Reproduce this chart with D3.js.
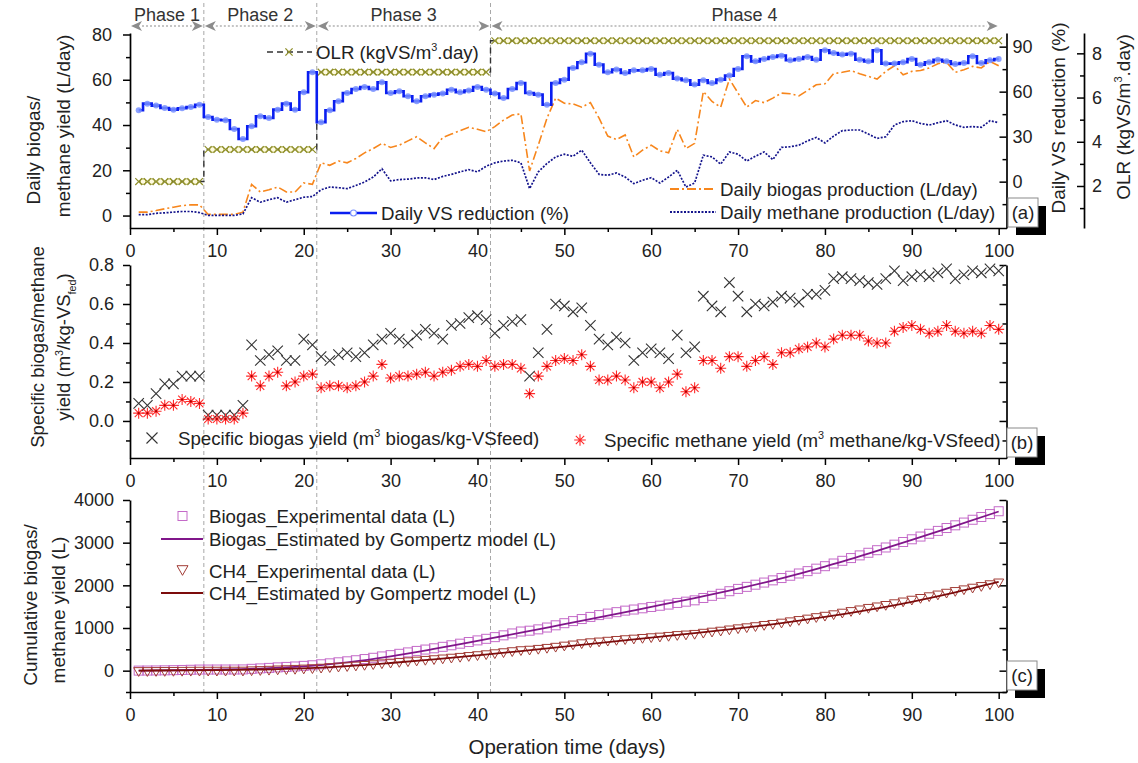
<!DOCTYPE html>
<html><head><meta charset="utf-8">
<script src="https://cdn.jsdelivr.net/npm/d3@7/dist/d3.min.js"></script>
<style>html,body{margin:0;padding:0;background:#fff}</style>
</head><body>
<svg id="chart" width="1138" height="763" xmlns="http://www.w3.org/2000/svg"></svg>
<script>
// ---------------- DATA ----------------
const days = d3.range(1, 101);
const xTicks = [0,10,20,30,40,50,60,70,80,90,100];
const xMinorTicks = [5,15,25,35,45,55,65,75,85,95];
const phaseNames = ["Phase 1","Phase 2","Phase 3","Phase 4"];
const phaseFrom = [0, 8.5, 21.5, 41.5];
const phaseTo = [8.5, 21.5, 41.5, 100];
const phaseStartDay = [1, 9, 22, 42];
const phaseEndDay = [8, 21, 41, 100];
const olrValue = [2.2, 3.65, 7.15, 8.57];

const vsReduction = [47.6,52.0,50.7,49.1,48.0,48.9,49.8,51.3,43.1,41.3,
 40.9,35.1,28.4,36.9,43.6,42.4,48.0,52.0,48.0,59.6,
 72.9,39.6,47.6,53.6,59.1,61.8,63.1,61.8,66.2,59.1,
 60.2,56.9,53.6,56.9,58.0,58.7,61.3,59.6,60.7,63.1,
 61.3,58.7,55.8,61.8,65.8,59.1,58.0,51.3,65.8,68.0,
 75.8,79.6,85.3,78.0,72.9,74.7,72.4,74.2,74.2,75.1,
 71.3,72.4,68.7,67.6,64.7,67.6,65.8,68.0,70.7,75.1,
 83.6,80.2,81.8,83.1,84.0,80.9,81.8,83.1,81.3,87.6,
 85.8,84.7,85.3,81.3,80.2,87.6,78.7,78.7,79.6,81.8,
 78.0,79.6,81.3,80.2,78.4,79.1,83.6,79.1,80.9,81.8];

const dailyBiogas = [1.5,1.5,2.2,3.0,3.7,4.4,4.7,4.7,0.5,0.5,
 0.5,0.5,1.5,13.8,10.4,11.4,12.6,10.4,10.4,14.4,
 13.8,23.3,22.2,24.1,23.3,25.2,27.7,29.6,31.9,30.1,
 31.1,33.0,34.8,32.1,29.6,34.5,36.0,37.5,39.0,38.1,
 37.0,39.3,42.2,44.4,44.9,19.7,31.1,43.0,51.9,49.6,
 49.3,47.9,49.9,43.0,35.1,33.6,35.6,25.9,28.9,31.1,
 28.6,27.7,38.1,29.6,31.9,54.8,50.4,47.9,60.3,54.1,
 47.9,50.8,49.9,51.9,54.1,53.8,52.9,55.3,57.8,58.2,
 62.7,63.3,64.1,62.7,61.5,60.3,63.7,66.2,62.2,63.7,
 64.1,65.2,67.1,67.7,63.3,64.4,65.9,65.2,68.1,66.2];

const dailyMethane = [0.4,0.4,1.0,1.2,1.5,1.8,1.8,1.3,0.1,0.1,
 0.1,0.1,0.7,7.9,5.9,7.0,7.9,5.9,7.0,8.1,
 8.4,11.4,12.6,12.3,11.9,13.3,14.8,17.0,20.7,15.3,
 15.9,16.1,16.6,16.7,15.9,17.3,18.2,19.3,20.3,19.3,
 21.8,23.3,24.1,24.4,23.3,11.9,19.3,23.0,25.9,27.1,
 26.2,28.9,23.3,18.2,17.8,18.8,17.0,14.1,15.6,16.7,
 14.4,17.0,20.0,12.6,14.4,26.7,25.9,22.7,28.1,27.1,
 24.1,26.2,28.1,24.7,30.1,30.4,31.1,33.0,34.5,32.1,
 35.1,37.5,37.8,37.8,36.0,34.1,34.8,40.0,41.5,41.9,
 40.7,40.0,41.0,41.9,40.0,39.0,39.3,39.0,41.9,41.0];

const specBiogas = [0.09,0.08,0.14,0.19,0.19,0.23,0.23,0.23,0.03,0.03,
 0.03,0.03,0.08,0.39,0.31,0.34,0.36,0.31,0.31,0.42,
 0.39,0.33,0.31,0.34,0.35,0.33,0.35,0.39,0.42,0.45,
 0.42,0.40,0.44,0.47,0.45,0.42,0.49,0.50,0.53,0.54,
 0.52,0.45,0.49,0.51,0.52,0.23,0.35,0.47,0.60,0.59,
 0.56,0.58,0.49,0.42,0.39,0.43,0.40,0.31,0.35,0.37,
 0.35,0.32,0.44,0.35,0.38,0.64,0.59,0.56,0.71,0.64,
 0.56,0.60,0.59,0.61,0.64,0.63,0.61,0.65,0.65,0.67,
 0.73,0.74,0.73,0.72,0.71,0.70,0.73,0.77,0.72,0.74,
 0.75,0.74,0.76,0.78,0.73,0.75,0.77,0.76,0.78,0.77];

const specMethane = [0.04,0.04,0.05,0.08,0.08,0.11,0.10,0.09,0.01,0.01,
 0.01,0.01,0.04,0.23,0.18,0.23,0.25,0.18,0.20,0.23,
 0.24,0.17,0.18,0.18,0.17,0.18,0.20,0.23,0.29,0.22,
 0.23,0.23,0.24,0.25,0.23,0.25,0.26,0.28,0.29,0.28,
 0.31,0.28,0.29,0.29,0.27,0.14,0.23,0.28,0.31,0.32,
 0.31,0.34,0.28,0.21,0.21,0.23,0.21,0.17,0.20,0.20,
 0.17,0.20,0.24,0.15,0.17,0.31,0.31,0.27,0.33,0.33,
 0.28,0.31,0.33,0.29,0.35,0.35,0.37,0.38,0.40,0.38,
 0.42,0.44,0.44,0.44,0.41,0.40,0.40,0.46,0.48,0.49,
 0.47,0.45,0.46,0.49,0.46,0.45,0.46,0.45,0.49,0.47];

const cumBiogas = [1.5,3.0,5.2,8.2,11.9,16.3,21.0,25.7,26.2,26.7,
 27.2,27.7,29.2,43.0,53.4,64.8,77.4,87.8,98.2,112.6,
 126.4,149.7,171.9,196.0,219.3,244.5,272.2,301.8,333.7,363.8,
 394.9,427.9,462.7,494.8,524.4,558.9,594.9,632.4,671.4,709.5,
 746.5,785.8,828.0,872.4,917.3,937.0,968.1,1011.1,1063.0,1112.6,
 1161.9,1209.8,1259.7,1302.7,1337.8,1371.4,1407.0,1432.9,1461.8,1492.9,
 1521.5,1549.2,1587.3,1616.9,1648.8,1703.6,1754.0,1801.9,1862.2,1916.3,
 1964.2,2015.0,2064.9,2116.8,2170.9,2224.7,2277.6,2332.9,2390.7,2448.9,
 2511.6,2574.9,2639.0,2701.7,2763.2,2823.5,2887.2,2953.4,3015.6,3079.3,
 3143.4,3208.6,3275.7,3343.4,3406.7,3471.1,3537.0,3602.2,3670.3,3736.5];

const cumMethane = [0.4,0.8,1.8,3.0,4.5,6.3,8.1,9.4,9.5,9.6,
 9.7,9.8,10.5,18.4,24.3,31.3,39.2,45.1,52.1,60.2,
 68.6,80.0,92.6,104.9,116.8,130.1,144.9,161.9,182.6,197.9,
 213.8,229.9,246.5,263.2,279.1,296.4,314.6,333.9,354.2,373.5,
 395.3,418.6,442.7,467.1,490.4,502.3,521.6,544.6,570.5,597.6,
 623.8,652.7,676.0,694.2,712.0,730.8,747.8,761.9,777.5,794.2,
 808.6,825.6,845.6,858.2,872.6,899.3,925.2,947.9,976.0,1003.1,
 1027.2,1053.4,1081.5,1106.2,1136.3,1166.7,1197.8,1230.8,1265.3,1297.4,
 1332.5,1370.0,1407.8,1445.6,1481.6,1515.7,1550.5,1590.5,1632.0,1673.9,
 1714.6,1754.6,1795.6,1837.5,1877.5,1916.5,1955.8,1994.8,2036.7,2077.7];

const gompDays = [1,5,10,15,20,25,30,35,40,45,50,55,60,65,70,75,80,85,90,95,100];
const gompBiogas = [3,10,25,50,100,195,335,510,700,890,1090,1290,1495,1700,1920,2165,2440,2745,3065,3395,3730];
const gompMethane = [2,6,13,27,55,105,180,265,360,460,565,670,775,880,990,1115,1260,1425,1615,1835,2080];

const yTicksA = [0,20,40,60,80];
const yMinorA = [10,30,50,70];
const vsTicks = [0,30,60,90];
const vsMinor = [-15,15,45,75];
const olrTicks = [2,4,6,8];
const olrMinor = [1,3,5,7];
const yTicksB = [0,0.2,0.4,0.6,0.8];
const yMinorB = [-0.1,0.1,0.3,0.5,0.7];
const yTicksC = [0,1000,2000,3000,4000];
const yMinorC = [-500,500,1500,2500,3500];

// ---------------- SETUP ----------------
const FONT = '"Liberation Sans", Arial, Helvetica, sans-serif';
const svg = d3.select('#chart').attr('font-family', FONT);
svg.append('rect').attr('width',1138).attr('height',763).attr('fill','#fff');

const x = d3.scaleLinear().domain([0, 100.9]).range([130, 1006.5]);
const yA = d3.scaleLinear().domain([-5.5, 80.66]).range([228, 33]);
const yVS = d3.scaleLinear().domain([-30.9, 99.1]).range([228, 33]);
const yOLR = d3.scaleLinear().domain([0.1, 8.92]).range([228, 33]);
const yB = d3.scaleLinear().domain([-0.19, 0.8]).range([458, 265]);
const yC = d3.scaleLinear().domain([-500, 4000]).range([692, 500]);

const TICK_FS = 18, LEG_FS = 18.7, TITLE_FS = 19;

function label(g, px, py, parts, opt = {}) {
  const size = opt.size || LEG_FS;
  const grp = g.append('g').attr('transform', opt.rotate ? `translate(${px},${py}) rotate(${opt.rotate})` : `translate(${px},${py})`);
  const t = grp.append('text').attr('x', 0).attr('y', 0.35 * size)
    .attr('font-size', size).attr('fill', opt.fill || '#222')
    .attr('text-anchor', opt.anchor || 'start');
  let shift = 0;
  parts.forEach(p => {
    const arr = Array.isArray(p) ? p : [p];
    const kind = arr[1];
    const target = kind === 'sup' ? -size * 0.42 : kind === 'sub' ? size * 0.28 : 0;
    const ts = t.append('tspan').text(arr[0]).attr('dy', target - shift);
    if (kind) ts.attr('font-size', size * 0.58);
    shift = target;
  });
  return t;
}

function styleAxis(g) {
  g.selectAll('path.domain').attr('stroke', '#000').attr('stroke-width', 1.7);
  g.selectAll('.tick line').attr('stroke', '#000').attr('stroke-width', 1.5);
  g.selectAll('text').attr('font-size', TICK_FS).attr('fill', '#222').attr('font-family', FONT);
}

function xAxisAt(yPos) {
  const g = svg.append('g').attr('transform', `translate(0,${yPos})`);
  g.call(d3.axisBottom(x).tickValues(xTicks).tickSize(7).tickSizeOuter(0).tickPadding(9).tickFormat(d3.format('d')));
  const m = svg.append('g').attr('transform', `translate(0,${yPos})`);
  m.call(d3.axisBottom(x).tickValues(xMinorTicks).tickSize(4).tickSizeOuter(0).tickFormat(''));
  m.select('path.domain').remove();
  styleAxis(g); styleAxis(m);
}

function yAxisLeft(scale, major, minor, fmt, pad) {
  const g = svg.append('g').attr('transform', `translate(130,0)`);
  g.call(d3.axisLeft(scale).tickValues(major).tickSize(7).tickSizeOuter(0).tickPadding(pad).tickFormat(fmt));
  const m = svg.append('g').attr('transform', `translate(130,0)`);
  m.call(d3.axisLeft(scale).tickValues(minor).tickSize(4).tickSizeOuter(0).tickFormat(''));
  m.select('path.domain').remove();
  styleAxis(g); styleAxis(m);
}

function yAxisRight(xPos, scale, major, minor, fmt, pad) {
  const g = svg.append('g').attr('transform', `translate(${xPos},0)`);
  g.call(d3.axisRight(scale).tickValues(major).tickSize(-7).tickSizeOuter(0).tickPadding(pad).tickFormat(fmt));
  const m = svg.append('g').attr('transform', `translate(${xPos},0)`);
  m.call(d3.axisRight(scale).tickValues(minor).tickSize(-4).tickSizeOuter(0).tickFormat(''));
  m.select('path.domain').remove();
  styleAxis(g); styleAxis(m);
}

function panelTag(bx, by, txt) {
  svg.append('rect').attr('x', bx + 8).attr('y', by + 8).attr('width', 30).attr('height', 29).attr('fill', '#000');
  svg.append('rect').attr('x', bx).attr('y', by).attr('width', 30).attr('height', 29).attr('fill', '#fff').attr('stroke', '#8a8a8a').attr('stroke-width', 1);
  label(svg, bx + 15, by + 14.5, [txt], { anchor: 'middle', size: 18.5 });
}

const xMark = s => `M${-s},${-s}L${s},${s}M${-s},${s}L${s},${-s}`;
const starMark = s => { const a = s * 0.72; return `M0,${-s}V${s}M${-s},0H${s}M${-a},${-a}L${a},${a}M${-a},${a}L${a},${-a}`; };
const triDown = s => `M${-s},${-s * 0.6}L${s},${-s * 0.6}L0,${s * 1.15}Z`;

// ---------------- PHASE DIVIDERS & ANNOTATIONS ----------------
const divG = svg.append('g');
phaseFrom.slice(1).forEach(d => {
  divG.append('line').attr('x1', x(d)).attr('x2', x(d)).attr('y1', 3).attr('y2', 692)
    .attr('stroke', '#a8a8a8').attr('stroke-width', 1).attr('stroke-dasharray', '4,3');
});
const arrowY = 26;
phaseNames.forEach((name, i) => {
  const x1 = x(phaseFrom[i]) + 1, x2 = x(phaseTo[i]) - 1;
  const ah = 11, aw = 5;
  divG.append('line').attr('x1', x1 + ah).attr('x2', x2 - ah).attr('y1', arrowY).attr('y2', arrowY)
    .attr('stroke', '#8c8c8c').attr('stroke-width', 1.2).attr('stroke-dasharray', '2,2');
  divG.append('path').attr('d', `M${x1},${arrowY}L${x1 + ah},${arrowY - aw}L${x1 + ah - 3},${arrowY}L${x1 + ah},${arrowY + aw}Z`).attr('fill', '#8c8c8c');
  divG.append('path').attr('d', `M${x2},${arrowY}L${x2 - ah},${arrowY - aw}L${x2 - ah + 3},${arrowY}L${x2 - ah},${arrowY + aw}Z`).attr('fill', '#8c8c8c');
  label(divG, (x(phaseFrom[i]) + x(phaseTo[i])) / 2, 15, [name], { anchor: 'middle', size: 18, fill: '#333' });
});

// ---------------- PANEL A ----------------
xAxisAt(228);
yAxisLeft(yA, yTicksA, yMinorA, d3.format('d'), 11);
yAxisRight(1006.5, yVS, vsTicks, vsMinor, d3.format('d'), 6);
yAxisRight(1084, yOLR, olrTicks, olrMinor, d3.format('d'), 8);

const gA = svg.append('g');
const olrAt = d => { for (let i = 0; i < phaseStartDay.length; i++) if (d >= phaseStartDay[i] && d <= phaseEndDay[i]) return olrValue[i]; return null; };
const olrPts = days.map(d => ({ d, v: olrAt(d) }));
gA.append('path').datum(olrPts)
  .attr('d', d3.line().x(p => x(p.d)).y(p => yOLR(p.v)).curve(d3.curveStep))
  .attr('fill', 'none').attr('stroke', '#333').attr('stroke-width', 1.4).attr('stroke-dasharray', '6,4');
const olrHalf = olrPts.filter((p, i) => i < olrPts.length - 1 && olrPts[i + 1].v === p.v);
gA.selectAll('circle.olr').data(olrHalf).join('circle')
  .attr('cx', p => x(p.d + 0.5)).attr('cy', p => yOLR(p.v)).attr('r', 2.8)
  .attr('fill', '#fffbe0').attr('stroke', '#9a9a32').attr('stroke-width', 1);
gA.selectAll('path.olrx').data(olrPts).join('path')
  .attr('transform', p => `translate(${x(p.d)},${yOLR(p.v)})`).attr('d', xMark(3.4))
  .attr('stroke', '#8f8f2a').attr('stroke-width', 1.2).attr('fill', 'none');

gA.append('path').datum(dailyBiogas)
  .attr('d', d3.line().x((v, i) => x(days[i])).y(v => yA(v)))
  .attr('fill', 'none').attr('stroke', '#f7861c').attr('stroke-width', 1.6).attr('stroke-dasharray', '9,3,2,3');
gA.append('path').datum(dailyMethane)
  .attr('d', d3.line().x((v, i) => x(days[i])).y(v => yA(v)))
  .attr('fill', 'none').attr('stroke', '#14148c').attr('stroke-width', 1.7).attr('stroke-dasharray', '2,1.5');
gA.append('path').datum(vsReduction)
  .attr('d', d3.line().x((v, i) => x(days[i])).y(v => yVS(v)).curve(d3.curveStep))
  .attr('fill', 'none').attr('stroke', '#0a1ef0').attr('stroke-width', 2.6);
gA.selectAll('circle.vs').data(vsReduction).join('circle')
  .attr('cx', (v, i) => x(days[i])).attr('cy', v => yVS(v)).attr('r', 3)
  .attr('fill', '#7890ff').attr('opacity', 0.85);

// legends panel A
gA.append('line').attr('x1', 267).attr('x2', 312).attr('y1', 52).attr('y2', 52).attr('stroke', '#333').attr('stroke-width', 1.4).attr('stroke-dasharray', '6,4');
gA.append('path').attr('transform', 'translate(289,52)').attr('d', xMark(3.6)).attr('stroke', '#8f8f2a').attr('stroke-width', 1.3).attr('fill', 'none');
label(gA, 316, 52, ['OLR (kgVS/m', ['3', 'sup'], '.day)']);

gA.append('line').attr('x1', 330).attr('x2', 377).attr('y1', 213).attr('y2', 213).attr('stroke', '#0a1ef0').attr('stroke-width', 2.6);
gA.append('circle').attr('cx', 353.5).attr('cy', 213).attr('r', 3).attr('fill', '#fff').attr('stroke', '#7890ff').attr('stroke-width', 1.2);
label(gA, 381, 213, ['Daily VS reduction (%)']);

gA.append('line').attr('x1', 670).attr('x2', 716).attr('y1', 189).attr('y2', 189).attr('stroke', '#f7861c').attr('stroke-width', 1.8).attr('stroke-dasharray', '9,3,2,3');
label(gA, 720, 189, ['Daily biogas production (L/day)']);
gA.append('line').attr('x1', 670).attr('x2', 716).attr('y1', 212).attr('y2', 212).attr('stroke', '#14148c').attr('stroke-width', 1.8).attr('stroke-dasharray', '2,1.5');
label(gA, 720, 212, ['Daily methane production (L/day)']);

panelTag(1008, 198, '(a)');

// axis titles panel A
label(svg, 33, 150, ['Daily biogas/'], { anchor: 'middle', rotate: -90, size: TITLE_FS });
label(svg, 63, 126, ['methane yield (L/day)'], { anchor: 'middle', rotate: -90, size: TITLE_FS });
label(svg, 1058, 118, ['Daily VS reduction (%)'], { anchor: 'middle', rotate: -90, size: TITLE_FS });
label(svg, 1123, 117, ['OLR (kgVS/m', ['3', 'sup'], '.day)'], { anchor: 'middle', rotate: -90, size: TITLE_FS });

// ---------------- PANEL B ----------------
xAxisAt(458);
yAxisLeft(yB, yTicksB, yMinorB, d3.format('.1f'), 9);
yAxisRight(1006.5, yB, yTicksB, yMinorB, '', 6);

const gB = svg.append('g');
gB.selectAll('path.sb').data(specBiogas).join('path')
  .attr('transform', (v, i) => `translate(${x(days[i])},${yB(v)})`).attr('d', xMark(5.2))
  .attr('stroke', '#333').attr('stroke-width', 1.1).attr('fill', 'none');
gB.selectAll('path.sm').data(specMethane).join('path')
  .attr('transform', (v, i) => `translate(${x(days[i])},${yB(v)})`).attr('d', starMark(5.5))
  .attr('stroke', '#ff2a2a').attr('stroke-width', 1.1).attr('fill', 'none');
gB.selectAll('circle.smd').data(specMethane).join('circle')
  .attr('cx', (v, i) => x(days[i])).attr('cy', v => yB(v)).attr('r', 1.1).attr('fill', '#b00000');

gB.append('path').attr('transform', 'translate(152,438)').attr('d', xMark(5.5)).attr('stroke', '#333').attr('stroke-width', 1.1).attr('fill', 'none');
label(gB, 178, 438, ['Specific biogas yield (m', ['3', 'sup'], ' biogas/kg-VSfeed)']);
gB.append('path').attr('transform', 'translate(580,440)').attr('d', starMark(5.8)).attr('stroke', '#ff2a2a').attr('stroke-width', 1.1).attr('fill', 'none');
label(gB, 604, 440, ['Specific methane yield (m', ['3', 'sup'], ' methane/kg-VSfeed)']);

panelTag(1007, 428, '(b)');
label(svg, 38, 347, ['Specific biogas/methane'], { anchor: 'middle', rotate: -90, size: 18.5 });
label(svg, 64, 347, ['yield (m', ['3', 'sup'], '/kg-VS', ['fed', 'sub'], ')'], { anchor: 'middle', rotate: -90, size: 18.5 });

// ---------------- PANEL C ----------------
xAxisAt(692);
yAxisLeft(yC, yTicksC, yMinorC, d3.format('d'), 9);
yAxisRight(1006.5, yC, yTicksC, yMinorC, '', 6);

const gC = svg.append('g');
gC.selectAll('rect.cb').data(cumBiogas).join('rect')
  .attr('x', (v, i) => x(days[i]) - 4.5).attr('y', v => yC(v) - 4.5).attr('width', 9).attr('height', 9)
  .attr('fill', 'none').attr('stroke', '#c46ac8').attr('stroke-width', 1);
gC.append('path').datum(gompDays.map((d, i) => [d, gompBiogas[i]]))
  .attr('d', d3.line().x(p => x(p[0])).y(p => yC(p[1])).curve(d3.curveMonotoneX))
  .attr('fill', 'none').attr('stroke', '#80168a').attr('stroke-width', 1.8);
gC.selectAll('path.cm').data(cumMethane).join('path')
  .attr('transform', (v, i) => `translate(${x(days[i])},${yC(v)})`).attr('d', triDown(5))
  .attr('fill', 'none').attr('stroke', '#a23c36').attr('stroke-width', 1);
gC.append('path').datum(gompDays.map((d, i) => [d, gompMethane[i]]))
  .attr('d', d3.line().x(p => x(p[0])).y(p => yC(p[1])).curve(d3.curveMonotoneX))
  .attr('fill', 'none').attr('stroke', '#7c0c0c').attr('stroke-width', 1.8);

gC.append('rect').attr('x', 178).attr('y', 511.5).attr('width', 9).attr('height', 9).attr('fill', 'none').attr('stroke', '#c46ac8').attr('stroke-width', 1);
label(gC, 209, 516, ['Biogas_Experimental data (L)']);
gC.append('line').attr('x1', 161).attr('x2', 203).attr('y1', 539).attr('y2', 539).attr('stroke', '#80168a').attr('stroke-width', 1.8);
label(gC, 209, 539, ['Biogas_Estimated by Gompertz model (L)']);
gC.append('path').attr('transform', 'translate(182.5,569)').attr('d', triDown(5.5)).attr('fill', 'none').attr('stroke', '#a23c36').attr('stroke-width', 1);
label(gC, 209, 571, ['CH4_Experimental data (L)']);
gC.append('line').attr('x1', 161).attr('x2', 203).attr('y1', 593).attr('y2', 593).attr('stroke', '#7c0c0c').attr('stroke-width', 1.8);
label(gC, 209, 593, ['CH4_Estimated by Gompertz model (L)']);

panelTag(1007, 661, '(c)');
label(svg, 30, 605, ['Cumulative biogas/'], { anchor: 'middle', rotate: -90, size: TITLE_FS });
label(svg, 58, 610, ['methane yield (L)'], { anchor: 'middle', rotate: -90, size: TITLE_FS });

label(svg, 567, 747, ['Operation time (days)'], { anchor: 'middle', size: 20.5 });
</script>
</body></html>
